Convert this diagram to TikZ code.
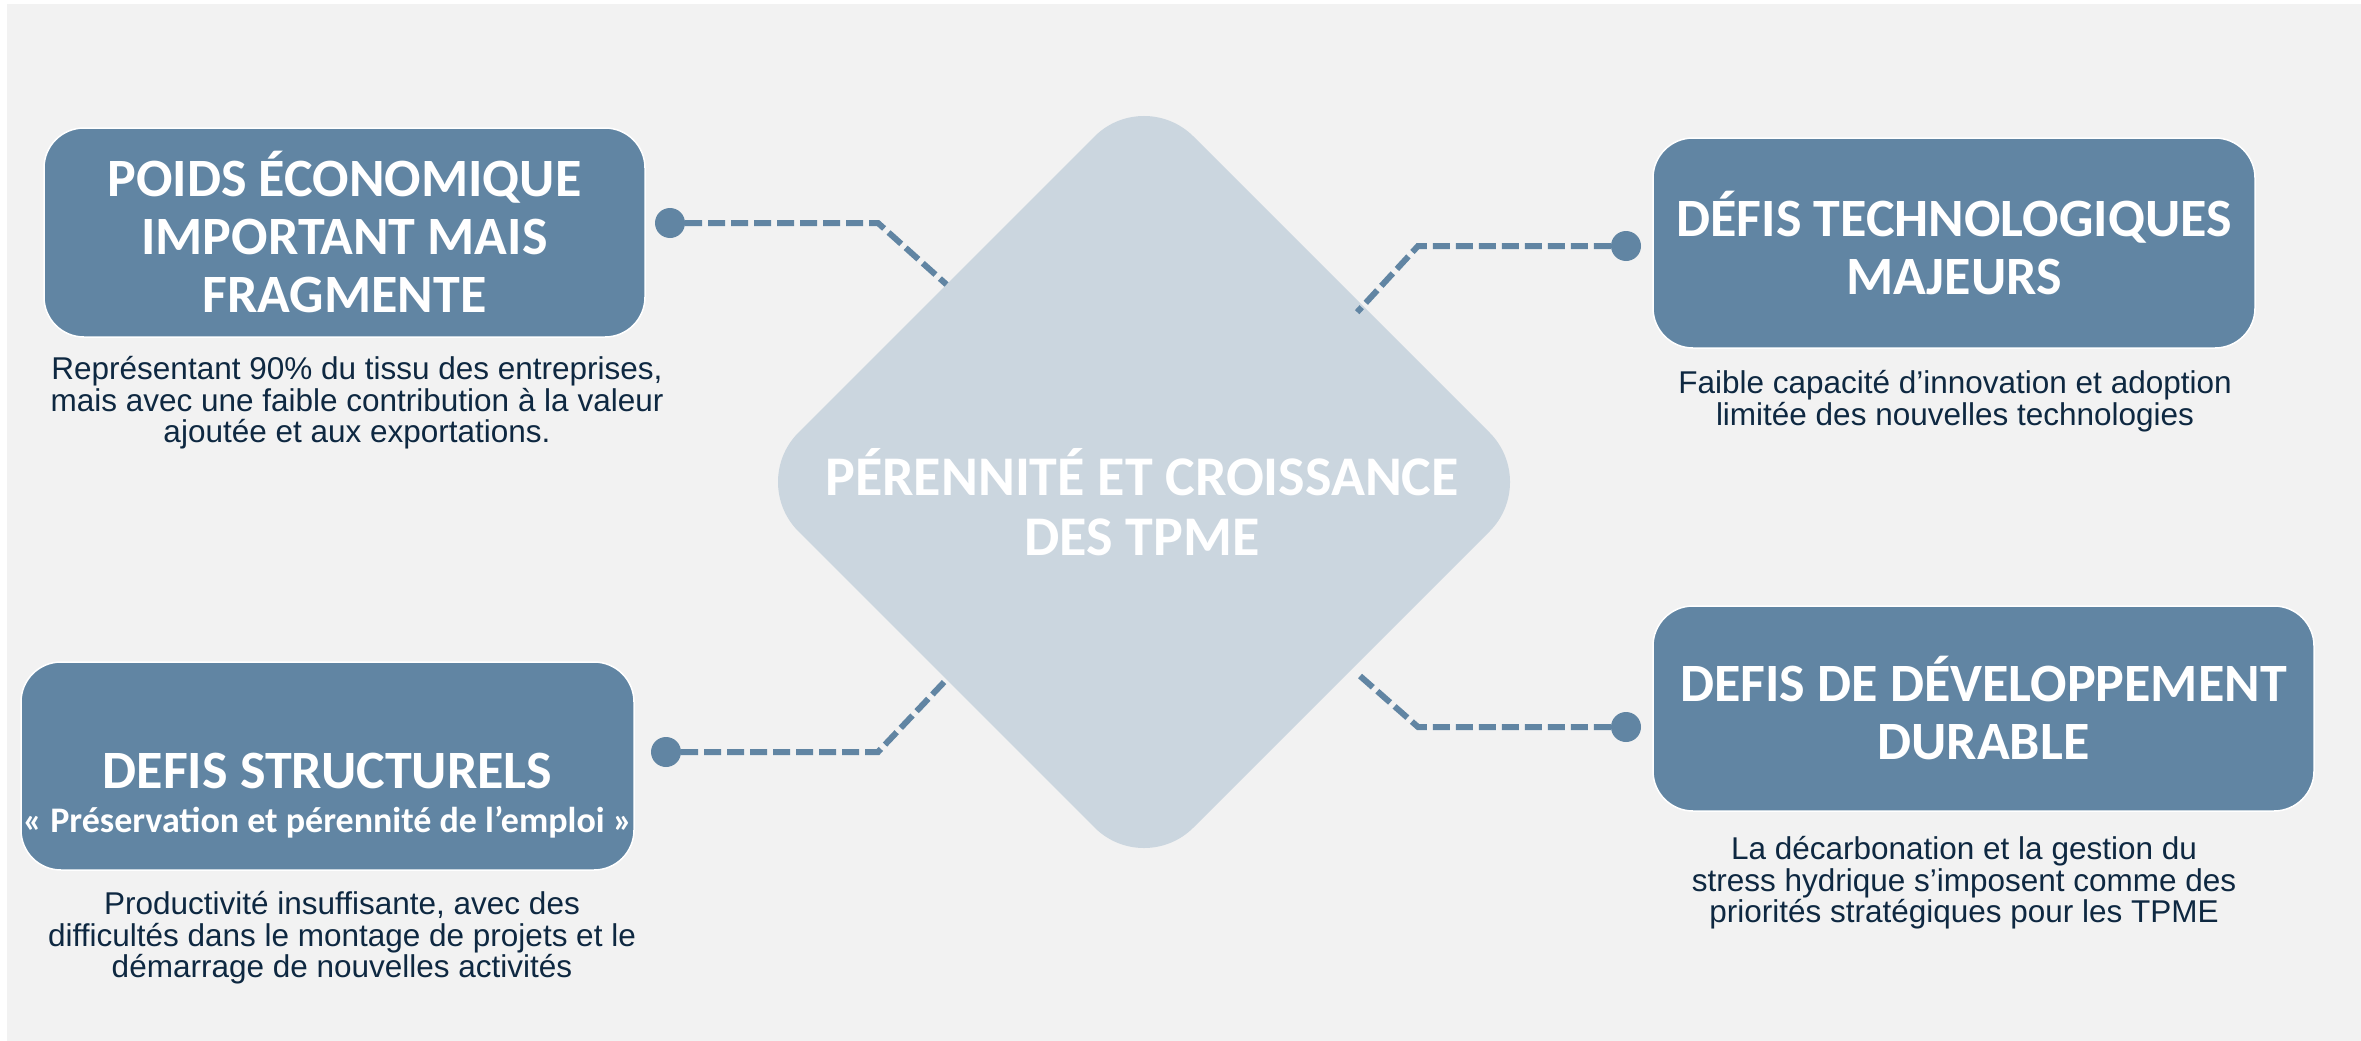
\documentclass[tikz,border=0pt]{standalone}
\usepackage{fontspec}
\setmainfont{Liberation Sans}
\newfontfamily\titlefont{Carlito}
\usetikzlibrary{shapes.geometric,calc}

\definecolor{pagegray}{HTML}{F2F2F2}
\definecolor{boxblue}{HTML}{6185A3}
\definecolor{hubgray}{HTML}{CBD6DF}
\definecolor{navy}{HTML}{0E2841}

\tikzset{
  theme/.style={rounded corners=40pt, fill=boxblue, draw=white, line width=1.5pt,
    inner sep=0pt, text=white, align=center,
    font=\titlefont\bfseries\fontsize{54}{58}\selectfont},
  desc/.style={text=navy, align=center, inner sep=0pt,
    font=\fontsize{31.5}{31.5}\selectfont},
  dot/.style={circle, fill=boxblue, minimum size=30pt, inner sep=0pt},
  link/.style={draw=boxblue, line width=6pt, dash pattern=on 17pt off 6pt},
}

\begin{document}
\begin{tikzpicture}[x=1pt, y=-1pt]
    \useasboundingbox (0,0) rectangle (2361,1041);
    \fill[white] (0,0) rectangle (2361,1041);
    \fill[pagegray] (7,4) rectangle (2361,1041);

    % centre
    \node[diamond, fill=hubgray, minimum width=790pt, minimum height=790pt,
      inner sep=0pt, outer sep=0pt, rounded corners=70pt] (hub) at (1144,482) {};
    \node[text=white, align=center, font=\titlefont\bfseries\fontsize{56}{60}\selectfont]
      (hubtext) at (1142,502) {PÉRENNITÉ ET CROISSANCE\\DES TPME};

    % four themes
    \node[theme, minimum width=601pt, minimum height=209pt] (eco) at (344.5,232.5)
      {POIDS ÉCONOMIQUE\\IMPORTANT MAIS\\FRAGMENTE};
    \node[theme, minimum width=602pt, minimum height=210pt] (tech) at (1954,243)
      {DÉFIS TECHNOLOGIQUES\\MAJEURS};
    \node[theme, minimum width=613pt, minimum height=208pt] (struct) at (327.5,766)
      {\rule{0pt}{94pt}DEFIS STRUCTURELS\\[-14pt]{\fontsize{36}{38}\selectfont «~Préservation et pérennité de l’emploi~»}};
    \node[theme, minimum width=661pt, minimum height=205pt] (durable) at (1983.5,708.5)
      {DEFIS DE DÉVELOPPEMENT\\DURABLE};

    \node[desc] (ecodesc) at (357,403)
      {Représentant 90\% du tissu des entreprises,\\mais avec une faible contribution à la valeur\\ajoutée et aux exportations.};
    \node[desc] (techdesc) at (1955,401)
      {Faible capacité d’innovation et adoption\\limitée des nouvelles technologies};
    \node[desc] (structdesc) at (342,938)
      {Productivité insuffisante, avec des\\difficultés dans le montage de projets et le\\démarrage de nouvelles activités};
    \node[desc] (durabledesc) at (1964,883)
      {La décarbonation et la gestion du\\stress hydrique s’imposent comme des\\priorités stratégiques pour les TPME};

    % dotted links
    \node[dot] (ecodot) at (670,223) {};
    \node[dot] (techdot) at (1626,246) {};
    \node[dot] (structdot) at (666,752) {};
    \node[dot] (durabledot) at (1626,727) {};

    \draw[link] (ecodot) -- ++(208,0) -- ($(hub.north)!0.5!(hub.west)$);
    \draw[link] (techdot) -- ++(-208,0) -- ($(hub.north)!0.57!(hub.east) + (-12,0)$);
    \draw[link] (structdot) -- ++(212,0) -- ($(hub.south)!0.5!(hub.west)$);
    \draw[link] (durabledot) -- ++(-208,0) -- ($(hub.south)!0.53!(hub.east) + (4,6)$);
\end{tikzpicture}
\end{document}
